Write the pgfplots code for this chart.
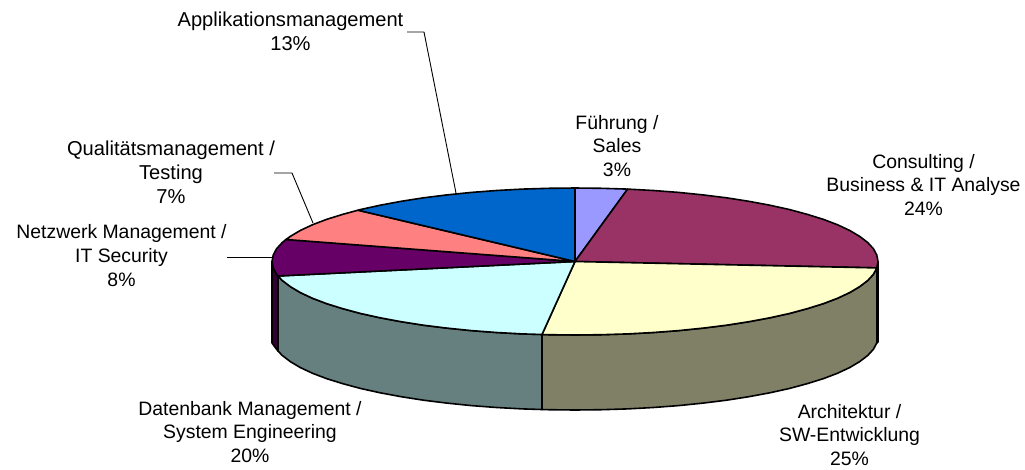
\documentclass[border=0pt]{standalone}
\usepackage{pgfplots}
\pgfplotsset{compat=1.18}
\usepackage{fontspec}
\setmainfont{Liberation Sans}
\definecolor{cFuehrung}{HTML}{9999FF}
\definecolor{cConsult}{HTML}{993366}
\definecolor{cArch}{HTML}{FFFFCC}
\definecolor{cDaten}{HTML}{CCFFFF}
\definecolor{cNetz}{HTML}{660066}
\definecolor{cQual}{HTML}{FF8080}
\definecolor{cAppl}{HTML}{0066CC}
\definecolor{wConsult}{HTML}{4C1933}
\definecolor{wArch}{HTML}{808066}
\definecolor{wDaten}{HTML}{668080}
\definecolor{wNetz}{HTML}{330033}
\definecolor{txt}{HTML}{000000}
\tikzset{lab/.style={font=\fontsize{19.4}{23.8}\selectfont, align=center, text=txt, anchor=center, inner sep=0pt},
labw/.style={font=\fontsize{20.1}{23.8}\selectfont, align=center, text=txt, anchor=center, inner sep=0pt}}
\begin{document}
\begin{tikzpicture}
\begin{axis}[
  hide axis, scale only axis, width=1025pt, height=469pt,
  xmin=0, xmax=1025, ymin=0, ymax=469, y dir=reverse, clip=false,
  every axis plot/.append style={line join=round, line width=1.6pt, mark=none}
]
\path (axis cs:0,0) rectangle (axis cs:1025,469);
% side walls
\addplot[fill=wConsult, draw=black] coordinates {(878,261.5)(876.8,267.9)(876.8,342.9)(878,342)} -- cycle;
\addplot[fill=wArch, draw=black] coordinates {(876.8,267.9)(873.4,274.3)(867.7,280.5)(859.7,286.6)(849.6,292.6)(837.4,298.3)(823.2,303.7)(807.1,308.7)(789.3,313.5)(769.8,317.8)(748.8,321.7)(726.5,325.2)(703.1,328.1)(678.6,330.6)(653.4,332.5)(627.6,333.9)(601.4,334.7)(575,335)(548.6,334.7)(542,334.5)
 (542,409.5)(548.6,409.7)(575,410)(601.4,409.7)(627.6,408.9)(653.4,407.5)(678.6,405.6)(703.1,403.1)(726.5,400.2)(748.8,396.7)(769.8,392.8)(789.3,388.5)(807.1,383.7)(823.2,378.7)(837.4,373.3)(849.6,367.6)(859.7,361.6)(867.7,355.5)(873.4,349.3)(876.8,342.9)} -- cycle;
\addplot[fill=wDaten, draw=black] coordinates {(542,334.5)(522.4,333.9)(496.6,332.5)(471.4,330.6)(446.9,328.1)(423.5,325.2)(401.2,321.7)(380.2,317.8)(360.7,313.5)(342.9,308.7)(326.8,303.7)(312.6,298.3)(300.4,292.6)(290.3,286.6)(282.3,280.5)(278,276)
 (278,351)(282.3,355.5)(290.3,361.6)(300.4,367.6)(312.6,373.3)(326.8,378.7)(342.9,383.7)(360.7,388.5)(380.2,392.8)(401.2,396.7)(423.5,400.2)(446.9,403.1)(471.4,405.6)(496.6,407.5)(522.4,408.9)(542,409.5)} -- cycle;
\addplot[fill=wNetz, draw=black] coordinates {(278,276)(276.6,274.3)(273.2,267.9)(272,261.5)(272,343)(276.6,349.3)(278,351)} -- cycle;
% top faces
\addplot[fill=cFuehrung, draw=black] coordinates {(575,261.5)(575,188)(601.4,188.3)(627.6,189.1)} -- cycle;
\addplot[fill=cConsult, draw=black] coordinates {(575,261.5)(627.6,189.1)(653.4,190.5)(678.6,192.4)(703.1,194.9)(726.5,197.8)(748.8,201.3)(769.8,205.2)(789.3,209.5)(807.1,214.3)(823.2,219.3)(837.4,224.7)(849.6,230.4)(859.7,236.4)(867.7,242.5)(873.4,248.7)(876.8,255.1)(878,261.5)(876.8,267.9)} -- cycle;
\addplot[fill=cArch, draw=black] coordinates {(575,261.5)(876.8,267.9)(873.4,274.3)(867.7,280.5)(859.7,286.6)(849.6,292.6)(837.4,298.3)(823.2,303.7)(807.1,308.7)(789.3,313.5)(769.8,317.8)(748.8,321.7)(726.5,325.2)(703.1,328.1)(678.6,330.6)(653.4,332.5)(627.6,333.9)(601.4,334.7)(575,335)(548.6,334.7)(542,334.5)} -- cycle;
\addplot[fill=cDaten, draw=black] coordinates {(575,261.5)(542,334.5)(522.4,333.9)(496.6,332.5)(471.4,330.6)(446.9,328.1)(423.5,325.2)(401.2,321.7)(380.2,317.8)(360.7,313.5)(342.9,308.7)(326.8,303.7)(312.6,298.3)(300.4,292.6)(290.3,286.6)(282.3,280.5)(278,276)} -- cycle;
\addplot[fill=cNetz, draw=black] coordinates {(575,261.5)(278,276)(276.6,274.3)(273.2,267.9)(272,261.5)(273.2,255.1)(276.6,248.7)(282.3,242.5)(286,239.5)} -- cycle;
\addplot[fill=cQual, draw=black] coordinates {(575,261.5)(286,239.5)(290.3,236.4)(300.4,230.4)(312.6,224.7)(326.8,219.3)(342.9,214.3)(358,210.2)} -- cycle;
\addplot[fill=cAppl, draw=black] coordinates {(575,261.5)(358,210.2)(360.7,209.5)(380.2,205.2)(401.2,201.3)(423.5,197.8)(446.9,194.9)(471.4,192.4)(496.6,190.5)(522.4,189.1)(548.6,188.3)(575,188)} -- cycle;
% leader lines
\addplot[draw=black, line width=0.9pt] coordinates {(407,32)(424,32)(456,193)};
\addplot[draw=black, line width=0.9pt] coordinates {(274,173)(292,173)(313,223)};
\addplot[draw=black, line width=0.9pt] coordinates {(227,257)(272,257)};
% labels
\node[labw] at (axis cs:290.5,31) {Applikationsmanagement\\13\%};
\node[lab] at (axis cs:617,146) {Führung /\\Sales\\3\%};
\node[lab] at (axis cs:923.5,185) {Consulting /\\Business \& IT Analyse\\24\%};
\node[labw] at (axis cs:171,172) {Qualitätsmanagement /\\Testing\\7\%};
\node[lab] at (axis cs:121.5,255.5) {Netzwerk Management /\\IT Security\\8\%};
\node[lab] at (axis cs:250,432) {Datenbank Management /\\System Engineering\\20\%};
\node[lab] at (axis cs:849.5,435) {Architektur /\\SW-Entwicklung\\25\%};
\end{axis}
\end{tikzpicture}
\end{document}
